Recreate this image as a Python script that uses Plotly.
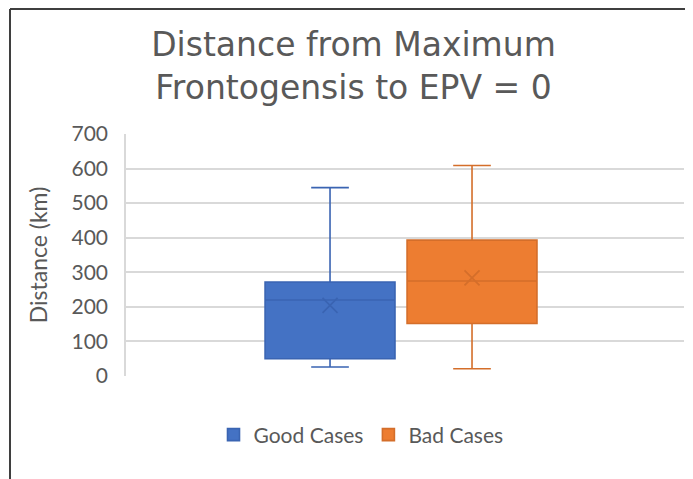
import plotly.graph_objects as go

# ---- data ----
categories = ["Good Cases", "Bad Cases"]
lower_whisker = [26, 21]
q1_values = [50, 152]
median_values = [220, 275]
q3_values = [272, 393]
upper_whisker = [545, 609]
mean_values = [204, 284]
y_ticks = [0, 100, 200, 300, 400, 500, 600, 700]

fill_colors = ["#4472C4", "#ED7D31"]
line_colors = ["#3A64B2", "#D46E2A"]

# figure is placed at an 8px page offset by the html body margin
W, H = 685, 471
L, R, T, B = 118, 9, 126, 103
PW, PH = W - L - R, H - T - B

fig = go.Figure()
for i, cat in enumerate(categories):
    fig.add_trace(go.Box(
        name=cat,
        x=[cat],
        q1=[q1_values[i]],
        median=[median_values[i]],
        q3=[q3_values[i]],
        lowerfence=[lower_whisker[i]],
        upperfence=[upper_whisker[i]],
        fillcolor=fill_colors[i],
        line=dict(color=line_colors[i], width=1.6),
        whiskerwidth=0.29,
        boxpoints=False,
        showlegend=True,
    ))
for i, cat in enumerate(categories):
    fig.add_trace(go.Scatter(
        x=[cat], y=[mean_values[i]], mode="markers",
        marker=dict(symbol="x-thin-open", size=15,
                    line=dict(color=line_colors[i], width=1.7),
                    color=line_colors[i]),
        showlegend=False, hoverinfo="skip",
    ))

font_family = "Lato, 'Open Sans', sans-serif"
fig.update_layout(
    width=W, height=H,
    margin=dict(l=L, r=R, t=T, b=B),
    paper_bgcolor="white", plot_bgcolor="white",
    boxgap=0.085, boxgroupgap=0,
    title=dict(
        text="Distance from Maximum<br>Frontogensis to EPV = 0",
        font=dict(family="DejaVu Sans, sans-serif", size=33, color="#595959"),
        x=345.5 / W, xanchor="center", xref="container",
        y=1 - 48 / H, yanchor="top", yref="container",
    ),
    xaxis=dict(
        type="category", categoryarray=categories,
        range=[-1.437, 2.493],
        showticklabels=False, showgrid=False, zeroline=False,
        showline=False, ticks="",
    ),
    yaxis=dict(
        range=[0, 700], tickvals=y_ticks,
        showgrid=True, gridcolor="#D9D9D9", gridwidth=1.5,
        zeroline=False, showline=True, linecolor="#D9D9D9", linewidth=1.5,
        tickfont=dict(family=font_family, size=21, color="#595959"),
        ticklabelstandoff=12,
        title=dict(text="Distance (km)", font=dict(family=font_family, size=23, color="#595959"),
                   standoff=17),
    ),
    legend=dict(
        orientation="h", x=(353 - L) / PW, xanchor="center",
        y=(368 - 427) / PH, yanchor="middle",
        font=dict(family=font_family, size=21, color="#595959"),
        traceorder="normal",
    ),
    shapes=[
        dict(type="line", xref="paper", yref="paper",
             x0=(2 - L) / PW, x1=(W + 5 - L) / PW, y0=(T + PH - 1) / PH, y1=(T + PH - 1) / PH,
             line=dict(color="#3F3F3F", width=2)),
        dict(type="line", xref="paper", yref="paper",
             x0=(2 - L) / PW, x1=(2 - L) / PW, y0=(T + PH - 1) / PH, y1=-(B + 5) / PH,
             line=dict(color="#3F3F3F", width=2)),
    ],
)

fig.write_html("out.html")
